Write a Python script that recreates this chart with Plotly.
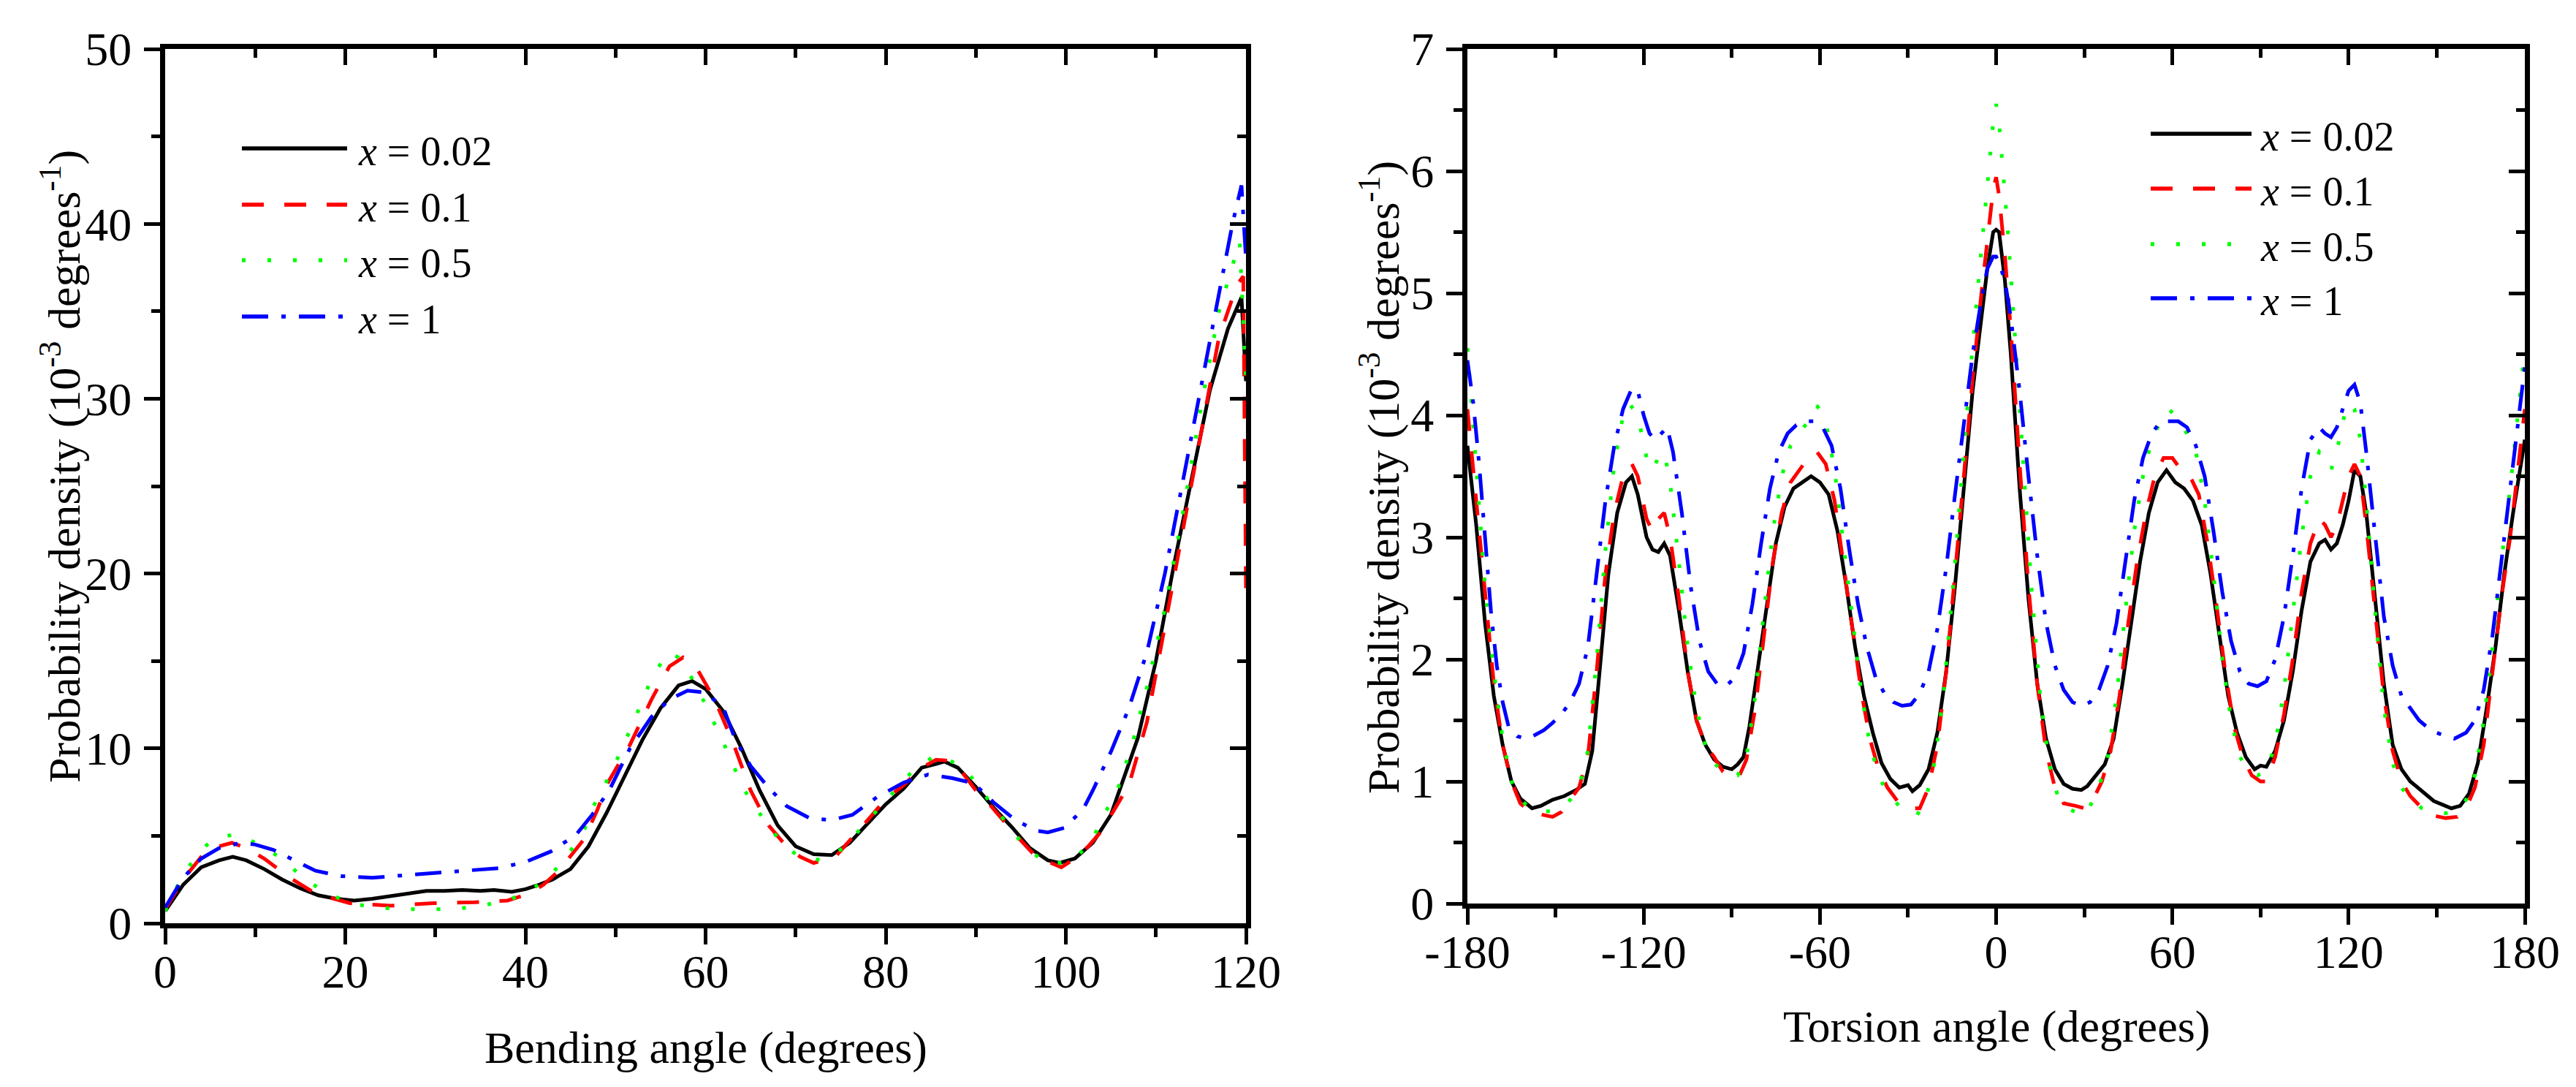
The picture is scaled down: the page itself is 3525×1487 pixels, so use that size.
import plotly.graph_objects as go

W, H = 3525, 1487


def px(x):
    return x / W


def py(y):
    return 1 - y / H


FONT = "Liberation Serif"

SERIES_LABELS = ["<i>x</i> = 0.02", "<i>x</i> = 0.1", "<i>x</i> = 0.5", "<i>x</i> = 1"]
COLORS = ["#000000", "#FF0000", "#00FF00", "#0000FF"]
DASHES = ["solid", "30px,28px", "5px,30px", "36px,18px,6px,18px"]

# ---------------- Bending angle data (left panel) ----------------
BEND_X_002 = [0, 2, 4, 6, 7.5, 9, 11, 13, 15, 17, 19, 21, 23, 25, 27, 29, 31, 33, 35, 36.5, 38.5,
              40, 41.5, 43, 45, 47, 49, 51, 53, 55, 57, 58.5, 60, 62, 64, 66, 68, 70, 72, 74, 76,
              78, 80, 82, 84, 85.5, 86.5, 88, 90, 92, 94, 96, 98, 99.3, 101, 103, 105, 106.5, 108,
              110, 112, 114, 116, 118, 119.5, 120]
BEND_Y_002 = [0.7, 2.2, 3.2, 3.6, 3.8, 3.6, 3.1, 2.5, 2.0, 1.6, 1.4, 1.3, 1.4, 1.55, 1.7, 1.85, 1.85,
              1.9, 1.85, 1.9, 1.8, 1.95, 2.2, 2.5, 3.1, 4.4, 6.3, 8.4, 10.5, 12.3, 13.6, 13.85, 13.4,
              12.1, 10.0, 7.6, 5.6, 4.4, 3.95, 3.9, 4.6, 5.7, 6.8, 7.7, 8.9, 9.1, 9.25, 8.9, 7.8, 6.6,
              5.5, 4.3, 3.6, 3.45, 3.7, 4.6, 6.2, 8.4, 10.6, 15.0, 20.5, 25.5, 30.5, 34.0, 35.8, 31.0]

BEND_X_01 = [0, 2, 4, 6, 7.4, 9, 11, 14, 16.7, 20.5, 25, 29.8, 34.4, 38, 40.5, 42, 43.7, 45, 46.5,
             48, 49, 51.6, 54, 56, 57.5, 59, 61, 63, 65, 67, 68.8, 70.5, 72, 74.4, 76, 78, 80, 82,
             84, 85.6, 87, 88.4, 90, 91.2, 94, 96.7, 99.5, 101, 102.5, 104, 105.5, 107, 109, 111,
             113, 115, 117, 119, 119.7, 120]
BEND_Y_01 = [0.8, 2.5, 3.8, 4.4, 4.6, 4.3, 3.7, 2.55, 1.7, 1.15, 1.0, 1.15, 1.2, 1.3, 1.7, 2.2, 3.0,
             3.8, 4.8, 6.5, 7.9, 10.2, 12.8, 14.7, 15.2, 14.6, 12.8, 10.4, 7.6, 5.6, 4.5, 3.8, 3.45,
             3.8, 4.7, 5.9, 7.1, 7.9, 8.9, 9.35, 9.3, 8.7, 7.6, 7.0, 5.3, 3.8, 3.2, 3.7, 4.4, 5.3,
             6.6, 7.9, 11.5, 17.0, 22.5, 28.0, 33.5, 36.5, 37.0, 19.0]

BEND_X_05 = [0, 2, 4, 5.6, 8.2, 10, 13, 15.3, 17.7, 20.5, 23.3, 26.5, 29.3, 32, 35, 38, 40.5, 42.8,
             44.7, 46.5, 47.4, 48.8, 50.2, 52, 54, 55.8, 57, 58.5, 60, 62, 64.2, 66.5, 68, 70.3, 73,
             75.3, 77.2, 79.5, 82.8, 85.6, 88.4, 90.2, 92, 94, 95.3, 98, 100.5, 102.8, 104.2, 105.6,
             107.4, 109, 111, 113, 115, 117, 119.3, 120]
BEND_Y_05 = [0.7, 2.8, 4.2, 4.9, 5.1, 4.6, 3.7, 2.6, 1.8, 1.15, 0.9, 0.8, 0.8, 0.8, 1.0, 1.3, 1.85,
             2.75, 3.9, 5.3, 6.55, 7.9, 9.4, 11.5, 14.0, 15.5, 15.2, 14.0, 12.5, 10.3, 7.7, 5.9, 4.9,
             3.8, 3.6, 4.3, 5.4, 6.7, 8.6, 9.65, 9.0, 7.95, 6.6, 5.4, 4.4, 3.4, 3.5, 4.6, 6.2, 7.4,
             10.3, 13.5, 18.0, 23.5, 29.5, 35.0, 39.0, 31.0]

BEND_X_1 = [0, 2, 4, 6, 8.4, 10, 12, 14, 16.7, 19.5, 23, 28, 32.6, 37, 40, 42.8, 45.6, 47.4, 49.3,
            51.6, 54, 56, 58, 60, 62, 63.3, 65, 67, 69, 71.6, 74, 76.3, 79, 82, 84.7, 87.4, 89.8,
            92, 94.4, 96.7, 98, 99.8, 101.9, 103, 105, 107, 109, 111, 113, 115, 117, 118.5, 119.5,
            120]
BEND_Y_1 = [0.9, 2.6, 3.7, 4.3, 4.6, 4.5, 4.2, 3.7, 3.0, 2.7, 2.6, 2.8, 3.0, 3.15, 3.5, 4.1, 5.05,
            6.2, 7.6, 10.0, 11.8, 12.8, 13.3, 13.2, 12.3, 10.5, 9.0, 7.75, 6.7, 6.0, 5.9, 6.2, 7.2,
            8.05, 8.5, 8.3, 8.0, 6.9, 5.9, 5.3, 5.2, 5.45, 6.5, 7.6, 9.8, 12.3, 15.5, 20.0, 25.3,
            30.7, 36.0, 40.0, 42.2, 38.0]

# ---------------- Torsion angle data (right panel): (angle, density) ----------------
TORS_002 = [(-180, 3.75), (-177, 3.1), (-174, 2.3), (-171, 1.7), (-168, 1.3), (-165, 1.0), (-162, 0.86),
            (-158, 0.78), (-155, 0.8), (-151, 0.85), (-147, 0.88), (-143, 0.93), (-140, 0.98),
            (-137.5, 1.25), (-135, 1.9), (-132, 2.7), (-129, 3.2), (-126, 3.45), (-124, 3.5),
            (-122, 3.35), (-119, 3.0), (-117, 2.9), (-115, 2.88), (-113, 2.95), (-111, 2.85),
            (-108, 2.4), (-105, 1.9), (-102, 1.5), (-99, 1.3), (-96, 1.18), (-93, 1.12), (-90, 1.1),
            (-88, 1.14), (-86, 1.2), (-84, 1.45), (-81, 1.95), (-78, 2.5), (-75, 2.95), (-72, 3.25),
            (-69, 3.4), (-66, 3.45), (-63, 3.5), (-60, 3.45), (-57, 3.35), (-54, 3.05), (-51, 2.6),
            (-48, 2.1), (-45, 1.7), (-42, 1.4), (-39, 1.15), (-36, 1.02), (-33, 0.95), (-30, 0.97),
            (-28.5, 0.92), (-26, 0.97), (-23, 1.1), (-20, 1.4), (-17, 1.9), (-14, 2.6), (-11, 3.4),
            (-8, 4.2), (-5, 4.8), (-3, 5.2), (-1, 5.5), (0, 5.52), (1, 5.5), (3, 5.1), (5, 4.5),
            (8, 3.4), (11, 2.5), (14, 1.8), (17, 1.35), (20, 1.1), (23, 0.98), (26, 0.94), (29, 0.93),
            (31, 0.96), (34, 1.05), (37, 1.14), (40, 1.35), (43, 1.8), (46, 2.3), (49, 2.8), (52, 3.2),
            (55, 3.45), (58, 3.55), (61, 3.45), (64, 3.4), (67, 3.3), (70, 3.1), (73, 2.7), (76, 2.2),
            (79, 1.7), (82, 1.4), (85, 1.2), (88, 1.1), (90, 1.13), (92, 1.12), (95, 1.25), (98, 1.5),
            (101, 1.9), (104, 2.4), (107, 2.8), (110, 2.95), (112, 2.98), (114, 2.9), (116, 2.95),
            (118, 3.1), (120, 3.3), (122, 3.55), (124, 3.5), (126, 3.2), (129, 2.5), (132, 1.8),
            (135, 1.3), (138, 1.1), (141, 1.0), (144, 0.94), (149, 0.84), (155, 0.78), (158, 0.8),
            (161, 0.9), (164, 1.15), (167, 1.6), (170, 2.1), (173, 2.7), (176, 3.2), (180, 3.8)]

TORS_01 = [(-180, 4.05), (-177, 3.3), (-174, 2.5), (-171, 1.8), (-168, 1.3), (-165, 1.0), (-162, 0.82),
           (-158, 0.74), (-155, 0.73), (-151, 0.71), (-148, 0.75), (-145, 0.85), (-142, 0.95),
           (-139, 1.2), (-136, 1.9), (-133, 2.7), (-130, 3.2), (-127, 3.5), (-124, 3.6), (-122, 3.5),
           (-119, 3.15), (-117, 3.05), (-115, 3.15), (-113, 3.2), (-111, 3.0), (-108, 2.5),
           (-105, 1.9), (-102, 1.5), (-99, 1.3), (-96, 1.2), (-93, 1.08), (-90, 1.03), (-87.7, 1.03),
           (-85, 1.18), (-82, 1.6), (-79, 2.2), (-76, 2.8), (-73, 3.2), (-70, 3.45), (-67, 3.55),
           (-64, 3.65), (-61, 3.7), (-58, 3.6), (-55, 3.3), (-52, 2.8), (-49, 2.25), (-46, 1.75),
           (-43, 1.35), (-40, 1.1), (-37, 0.95), (-33, 0.82), (-29, 0.78), (-26, 0.78), (-23, 0.95),
           (-20, 1.3), (-17, 1.9), (-14, 2.7), (-11, 3.5), (-8, 4.3), (-5, 5.0), (-3, 5.45),
           (-1, 5.85), (0, 5.95), (1, 5.8), (3, 5.3), (5, 4.7), (8, 3.6), (11, 2.6), (14, 1.8),
           (17, 1.25), (20, 0.95), (23, 0.82), (27, 0.8), (30, 0.78), (33, 0.85), (36, 1.0),
           (39, 1.25), (42, 1.7), (45, 2.3), (48, 2.8), (51, 3.2), (54, 3.5), (57, 3.65), (60, 3.65),
           (63, 3.55), (66, 3.5), (69, 3.35), (72, 2.95), (75, 2.45), (78, 1.9), (81, 1.45),
           (84, 1.2), (87, 1.05), (90, 1.0), (92, 1.0), (95, 1.2), (98, 1.55), (101, 2.0),
           (104, 2.55), (107, 2.95), (110, 3.15), (112, 3.1), (114, 3.0), (116, 3.1), (118, 3.3),
           (120, 3.5), (122, 3.6), (124, 3.5), (126, 3.1), (129, 2.4), (132, 1.7), (135, 1.25),
           (138, 1.0), (141, 0.88), (145, 0.78), (149, 0.72), (153, 0.7), (157, 0.71), (160, 0.78),
           (163, 0.95), (166, 1.3), (169, 1.9), (172, 2.5), (175, 3.0), (178, 3.6), (180, 4.05)]

TORS_05 = [(-180, 4.55), (-177, 3.6), (-174, 2.6), (-171, 1.9), (-168, 1.35), (-165, 1.0), (-162, 0.85),
           (-158, 0.77), (-155, 0.75), (-151, 0.76), (-148, 0.78), (-145, 0.85), (-142, 0.95),
           (-139, 1.25), (-136, 2.0), (-133, 2.9), (-130, 3.6), (-127, 4.0), (-125, 4.1), (-122, 4.0),
           (-119, 3.65), (-117, 3.55), (-115, 3.65), (-113, 3.7), (-111, 3.45), (-108, 2.8),
           (-105, 2.1), (-102, 1.6), (-99, 1.3), (-96, 1.15), (-93, 1.08), (-90, 1.05), (-88, 1.05),
           (-85, 1.2), (-82, 1.7), (-79, 2.4), (-76, 3.05), (-73, 3.5), (-70, 3.75), (-67, 3.85),
           (-64, 3.95), (-61, 4.08), (-58, 3.95), (-55, 3.55), (-52, 2.95), (-49, 2.3), (-46, 1.75),
           (-43, 1.3), (-40, 1.05), (-37, 0.9), (-33, 0.8), (-29, 0.74), (-27, 0.72), (-24, 0.85),
           (-21, 1.15), (-18, 1.7), (-15, 2.5), (-12, 3.4), (-9, 4.3), (-6, 5.1), (-4, 5.6),
           (-2, 6.1), (-1, 6.4), (0, 6.55), (1, 6.4), (2, 6.1), (4, 5.5), (6, 4.8), (9, 3.7),
           (12, 2.6), (15, 1.7), (18, 1.15), (21, 0.88), (24, 0.78), (27, 0.75), (30, 0.72),
           (32, 0.8), (35, 0.95), (38, 1.2), (41, 1.7), (44, 2.4), (47, 3.05), (50, 3.5), (53, 3.8),
           (56, 3.95), (59, 4.05), (62, 3.95), (65, 3.85), (68, 3.7), (71, 3.3), (74, 2.7), (77, 2.0),
           (80, 1.5), (83, 1.2), (86, 1.08), (89, 1.05), (92, 1.08), (95, 1.3), (98, 1.75),
           (101, 2.4), (104, 3.0), (107, 3.5), (110, 3.7), (112, 3.65), (114, 3.55), (116, 3.7),
           (118, 3.95), (120, 4.1), (122, 4.05), (124, 3.8), (126, 3.3), (129, 2.4), (132, 1.6),
           (135, 1.15), (138, 0.95), (141, 0.85), (145, 0.78), (149, 0.75), (153, 0.74), (157, 0.76),
           (160, 0.85), (163, 1.05), (166, 1.5), (169, 2.1), (172, 2.8), (175, 3.4), (178, 4.1),
           (180, 4.55)]

TORS_1 = [(-180, 4.45), (-178, 4.1), (-176, 3.6), (-174, 3.0), (-172, 2.4), (-170, 1.95), (-168, 1.65),
          (-166, 1.45), (-163, 1.37), (-160, 1.35), (-157, 1.38), (-154, 1.42), (-151, 1.48),
          (-148, 1.55), (-145, 1.65), (-142, 1.8), (-139, 2.1), (-136, 2.7), (-133, 3.3), (-130, 3.75),
          (-127, 4.05), (-124, 4.22), (-122, 4.2), (-120, 4.0), (-118, 3.85), (-116, 3.8),
          (-114, 3.85), (-112, 3.9), (-110, 3.7), (-107, 3.2), (-104, 2.6), (-101, 2.15), (-98, 1.9),
          (-95, 1.8), (-92, 1.78), (-89, 1.85), (-86, 2.05), (-83, 2.45), (-80, 2.95), (-77, 3.4),
          (-74, 3.7), (-71, 3.85), (-68, 3.92), (-65, 3.95), (-62, 3.95), (-59, 3.9), (-56, 3.75),
          (-53, 3.4), (-50, 2.9), (-47, 2.45), (-44, 2.1), (-41, 1.85), (-38, 1.72), (-35, 1.65),
          (-32, 1.62), (-29, 1.63), (-26, 1.72), (-23, 1.9), (-20, 2.25), (-17, 2.75), (-14, 3.35),
          (-11, 3.95), (-8, 4.5), (-5, 4.95), (-3, 5.2), (-1, 5.3), (0, 5.3), (1, 5.25), (3, 5.1),
          (5, 4.8), (8, 4.2), (11, 3.5), (14, 2.85), (17, 2.3), (20, 1.95), (23, 1.75), (26, 1.65),
          (29, 1.62), (32, 1.65), (35, 1.75), (38, 1.95), (41, 2.3), (44, 2.8), (47, 3.3), (50, 3.65),
          (53, 3.85), (56, 3.95), (59, 3.95), (62, 3.95), (65, 3.9), (68, 3.75), (71, 3.5), (74, 3.05),
          (77, 2.55), (80, 2.15), (83, 1.9), (86, 1.8), (89, 1.78), (92, 1.82), (95, 2.0), (98, 2.35),
          (101, 2.85), (104, 3.4), (107, 3.8), (110, 3.9), (112, 3.85), (114, 3.82), (116, 3.9),
          (118, 4.05), (120, 4.2), (122, 4.25), (124, 4.1), (126, 3.7), (129, 3.0), (132, 2.35),
          (135, 1.95), (138, 1.7), (141, 1.6), (144, 1.5), (148, 1.42), (152, 1.38), (156, 1.35),
          (160, 1.4), (163, 1.5), (166, 1.75), (169, 2.2), (172, 2.8), (175, 3.4), (178, 4.0),
          (180, 4.4)]

TORS_TICKS = [-180, -120, -60, 0, 60, 120, 180]
TORS_TICKTEXT = ["-180", "-120", "-60", "0", "60", "120", "180"]

X_TITLE_LEFT = "Bending angle (degrees)"
X_TITLE_RIGHT = "Torsion angle (degrees)"
Y_TITLE = "Probability density (10<sup>-3</sup> degrees<sup>-1</sup>)"

bend_sets = [(BEND_X_002, BEND_Y_002), (BEND_X_01, BEND_Y_01), (BEND_X_05, BEND_Y_05), (BEND_X_1, BEND_Y_1)]
tors_sets = [TORS_002, TORS_01, TORS_05, TORS_1]

fig = go.Figure()
LW = 5
for i, (bx, by) in enumerate(bend_sets):
    fig.add_trace(go.Scatter(x=bx, y=by, mode="lines", xaxis="x", yaxis="y", showlegend=False,
                             line=dict(color=COLORS[i], width=LW, dash=DASHES[i])))
for i, pairs in enumerate(tors_sets):
    tx = [p[0] for p in pairs]
    ty = [p[1] for p in pairs]
    fig.add_trace(go.Scatter(x=tx, y=ty, mode="lines", xaxis="x2", yaxis="y2", showlegend=False,
                             line=dict(color=COLORS[i], width=LW, dash=DASHES[i])))

# empty helper traces so the mirrored (inside-tick) axes get drawn
for xa, ya in [("x3", "y"), ("x", "y3"), ("x4", "y2"), ("x2", "y4")]:
    fig.add_trace(go.Scatter(x=[None], y=[None], xaxis=xa, yaxis=ya, showlegend=False,
                             hoverinfo="skip", mode="lines"))

tickfont = dict(family=FONT, size=64, color="black")


def axis(rng, domain, anchor, dtick, mdtick, side=None, overlaying=None, inside=False,
         labels=True, tickvals=None, ticktext=None, standoff=0):
    d = dict(range=rng, anchor=anchor, showline=True, linecolor="black", linewidth=7,
             showgrid=False, zeroline=False, ticks="inside" if inside else "outside",
             ticklen=22, tickwidth=5, tickcolor="black", tickfont=tickfont,
             showticklabels=labels, fixedrange=True, automargin=False,
             minor=dict(dtick=mdtick, tick0=0, ticklen=12, tickwidth=5, tickcolor="black",
                        ticks="inside" if inside else "outside", showgrid=False))
    if domain is not None:
        d["domain"] = domain
    if side:
        d["side"] = side
    if overlaying:
        d["overlaying"] = overlaying
    if tickvals is not None:
        d["tickmode"] = "array"
        d["tickvals"] = tickvals
        d["ticktext"] = ticktext
    else:
        d["tick0"] = 0
        d["dtick"] = dtick
    if labels:
        d["ticklabelstandoff"] = standoff
    return d


LX = [px(218), px(1697)]
LY = [py(1255), py(59)]
RX = [px(2000), px(3447)]
RY = [py(1228), py(59)]

fig.update_layout(
    width=W, height=H, autosize=False,
    margin=dict(l=0, r=0, t=0, b=0, pad=0, autoexpand=False),
    paper_bgcolor="white", plot_bgcolor="white",
    font=dict(family=FONT, color="black"),
    xaxis=axis([0, 120], LX, "y", 20, 10, standoff=-18),
    yaxis=axis([0, 50], LY, "x", 10, 5, standoff=4),
    xaxis3=axis([0, 120], None, "y", 20, 10, side="top", overlaying="x", inside=True, labels=False),
    yaxis3=axis([0, 50], None, "x", 10, 5, side="right", overlaying="y", inside=True, labels=False),
    xaxis2=axis([-180, 180], RX, "y2", 60, 30, tickvals=TORS_TICKS, ticktext=TORS_TICKTEXT, standoff=-18),
    yaxis2=axis([0, 7], RY, "x2", 1, 0.5, standoff=4),
    xaxis4=axis([-180, 180], None, "y2", 60, 30, side="top", overlaying="x2", inside=True, labels=False,
                tickvals=TORS_TICKS, ticktext=TORS_TICKTEXT),
    yaxis4=axis([0, 7], None, "x2", 1, 0.5, side="right", overlaying="y2", inside=True, labels=False),
)

title_font = dict(family=FONT, size=62, color="black")
annotations = [
    dict(text=X_TITLE_LEFT, x=px(958), y=py(1425), xref="paper", yref="paper",
         xanchor="center", yanchor="middle", showarrow=False, font=title_font),
    dict(text=X_TITLE_RIGHT, x=px(2724), y=py(1396), xref="paper", yref="paper",
         xanchor="center", yanchor="middle", showarrow=False, font=title_font),
    dict(text=Y_TITLE, x=px(75), y=py(630), xref="paper", yref="paper", textangle=-90,
         xanchor="center", yanchor="middle", showarrow=False, font=title_font),
    dict(text=Y_TITLE, x=px(1880), y=py(645), xref="paper", yref="paper", textangle=-90,
         xanchor="center", yanchor="middle", showarrow=False, font=title_font),
]

shapes = []
legend_font = dict(family=FONT, size=56, color="black")
LEG_L = dict(x0=323, x1=467, tx=480, rows=[195, 272, 348, 425])
LEG_R = dict(x0=2935, x1=3073, tx=3083, rows=[175, 250, 326, 400])
for leg in (LEG_L, LEG_R):
    for i, yy in enumerate(leg["rows"]):
        shapes.append(dict(type="line", xref="paper", yref="paper",
                           x0=px(leg["x0"]), x1=px(leg["x1"]), y0=py(yy), y1=py(yy),
                           line=dict(color=COLORS[i], width=LW + 0.5, dash=DASHES[i])))
        annotations.append(dict(text=SERIES_LABELS[i], x=px(leg["tx"]), y=py(yy + 4),
                                xref="paper", yref="paper", xanchor="left", yanchor="middle",
                                showarrow=False, font=legend_font))

fig.update_layout(annotations=annotations, shapes=shapes)
fig.write_html("out.html")
